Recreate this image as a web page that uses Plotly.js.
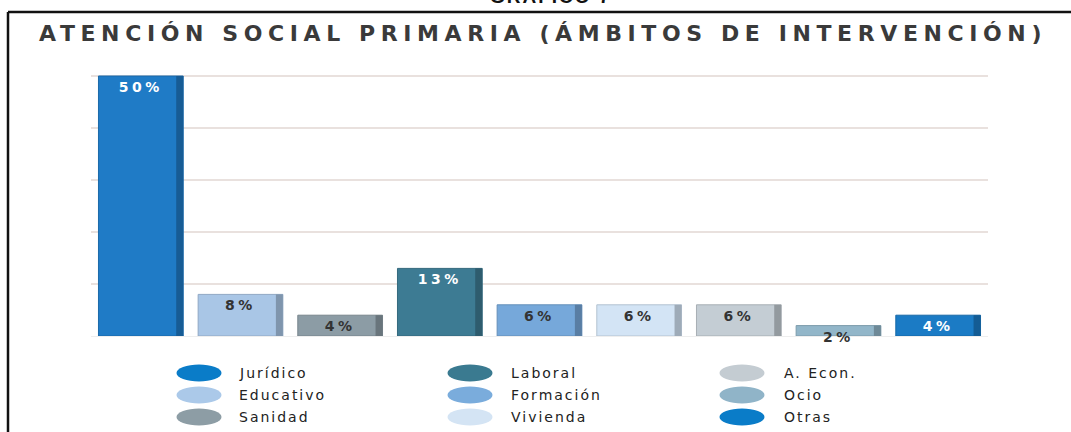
<!DOCTYPE html>
<html>
<head>
<meta charset="utf-8">
<script src="https://cdn.plot.ly/plotly-3.0.1.min.js"></script>
<style>
  html, body { margin: 0; padding: 0; background: #fff; }
  #chart { width: 1071px; height: 432px; }
  .gtitle { letter-spacing: 5.6px; }
  .bartext { letter-spacing: 3.5px; }
  .annotation-text { letter-spacing: 2px; }
</style>
</head>
<body>
<div id="chart"></div>
<script>
// datos del gráfico
const categorias = ['Jurídico', 'Educativo', 'Sanidad', 'Laboral', 'Formación', 'Vivienda', 'A. Econ.', 'Ocio', 'Otras'];
const porcentajes = [50, 8, 4, 13, 6, 6, 6, 2, 4];
const coloresBarra = ['#1f7bc6', '#a9c6e6', '#8c9ca5', '#3d7b93', '#76a8da', '#d3e4f5', '#c4cdd4', '#92b6c9', '#1b7bc5'];
const coloresLeyenda = ['#0a7cc8', '#abc9e9', '#8d9da5', '#3a7a90', '#7aacdc', '#d4e4f4', '#c4ccd2', '#90b4c8', '#0a7cc8'];
const coloresTexto = ['#ffffff', '#333333', '#333333', '#ffffff', '#333333', '#333333', '#333333', '#333333', '#ffffff'];

const W = 1071, H = 432;
const px = x => x / W;
const py = y => 1 - y / H;

function oscurecer(hex, f) {
    const n = parseInt(hex.slice(1), 16);
    const r = Math.round(((n >> 16) & 255) * f);
    const g = Math.round(((n >> 8) & 255) * f);
    const b = Math.round((n & 255) * f);
    return 'rgb(' + r + ',' + g + ',' + b + ')';
}

const anchoBarra = 0.85;
const anchoLado = 0.07;

// cara frontal
const barras = {
    type: 'bar',
    x: categorias,
    y: porcentajes,
    width: anchoBarra,
    marker: {
        color: coloresBarra,
        line: { color: coloresBarra.map(c => oscurecer(c, 0.85)), width: 1 }
    },
    text: porcentajes.map(v => v + '%'),
    textposition: 'inside',
    insidetextanchor: 'end',
    constraintext: 'none',
    cliponaxis: false,
    textangle: 0,
    textfont: { family: 'DejaVu Sans', size: 14, weight: 'bold', color: coloresTexto },
    hoverinfo: 'skip',
    showlegend: false
};

// lateral oscuro (efecto 3D)
const lados = {
    type: 'bar',
    x: categorias,
    y: porcentajes,
    width: anchoLado,
    offset: anchoBarra / 2 - anchoLado,
    marker: { color: coloresBarra.map(c => oscurecer(c, 0.75)), line: { width: 0 } },
    hoverinfo: 'skip',
    showlegend: false
};

// leyenda manual: tres columnas de tres
const colElipse = [199, 470, 742];
const colTexto = [237, 509, 782];
const filas = [373, 395, 417];

const shapes = [
    { type: 'line', xref: 'paper', yref: 'paper', x0: px(8), x1: 1.01, y0: py(12), y1: py(12), line: { color: '#111', width: 2.5 } },
    { type: 'line', xref: 'paper', yref: 'paper', x0: px(8), x1: px(8), y0: py(12), y1: -0.01, line: { color: '#111', width: 2.5 } }
];
const annotations = [
    {
        xref: 'paper', yref: 'paper', x: px(550), y: py(9), xanchor: 'center', yanchor: 'bottom',
        text: '<b>GRÁFICO 7</b>', showarrow: false,
        font: { family: 'Liberation Sans', size: 19, color: '#111' }
    }
];

categorias.forEach((cat, i) => {
    const c = Math.floor(i / 3), f = i % 3;
    shapes.push({
        type: 'circle', xref: 'paper', yref: 'paper',
        x0: px(colElipse[c] - 22.5), x1: px(colElipse[c] + 22.5),
        y0: py(filas[f] + 8.5), y1: py(filas[f] - 8.5),
        fillcolor: coloresLeyenda[i], line: { width: 0 }
    });
    annotations.push({
        xref: 'paper', yref: 'paper', x: px(colTexto[c]), y: py(filas[f]),
        xanchor: 'left', yanchor: 'middle', text: cat, showarrow: false,
        font: { family: 'DejaVu Sans', size: 14, color: '#222' }
    });
});

const layout = {
    width: W,
    height: H,
    margin: { l: 0, r: 0, t: 0, b: 0 },
    paper_bgcolor: '#ffffff',
    plot_bgcolor: '#ffffff',
    barmode: 'overlay',
    title: {
        text: 'ATENCIÓN SOCIAL PRIMARIA (ÁMBITOS DE INTERVENCIÓN)',
        x: px(543), xref: 'container', xanchor: 'center',
        y: py(33), yref: 'container', yanchor: 'middle',
        font: { family: 'DejaVu Sans', size: 22, weight: 'bold', color: '#3a3a3a' }
    },
    xaxis: {
        domain: [px(91), px(988)],
        showticklabels: false,
        showgrid: false,
        zeroline: false,
        showline: false,
        ticks: ''
    },
    yaxis: {
        domain: [py(336), py(65.6)],
        range: [0, 52],
        dtick: 10,
        showticklabels: false,
        showgrid: true,
        gridcolor: '#e9e1de',
        gridwidth: 1.5,
        zeroline: true,
        zerolinecolor: '#eeeeee',
        showline: false,
        ticks: ''
    },
    shapes: shapes,
    annotations: annotations,
    showlegend: false
};

Plotly.newPlot('chart', [barras, lados], layout, { displayModeBar: false, staticPlot: true });
</script>
</body>
</html>
